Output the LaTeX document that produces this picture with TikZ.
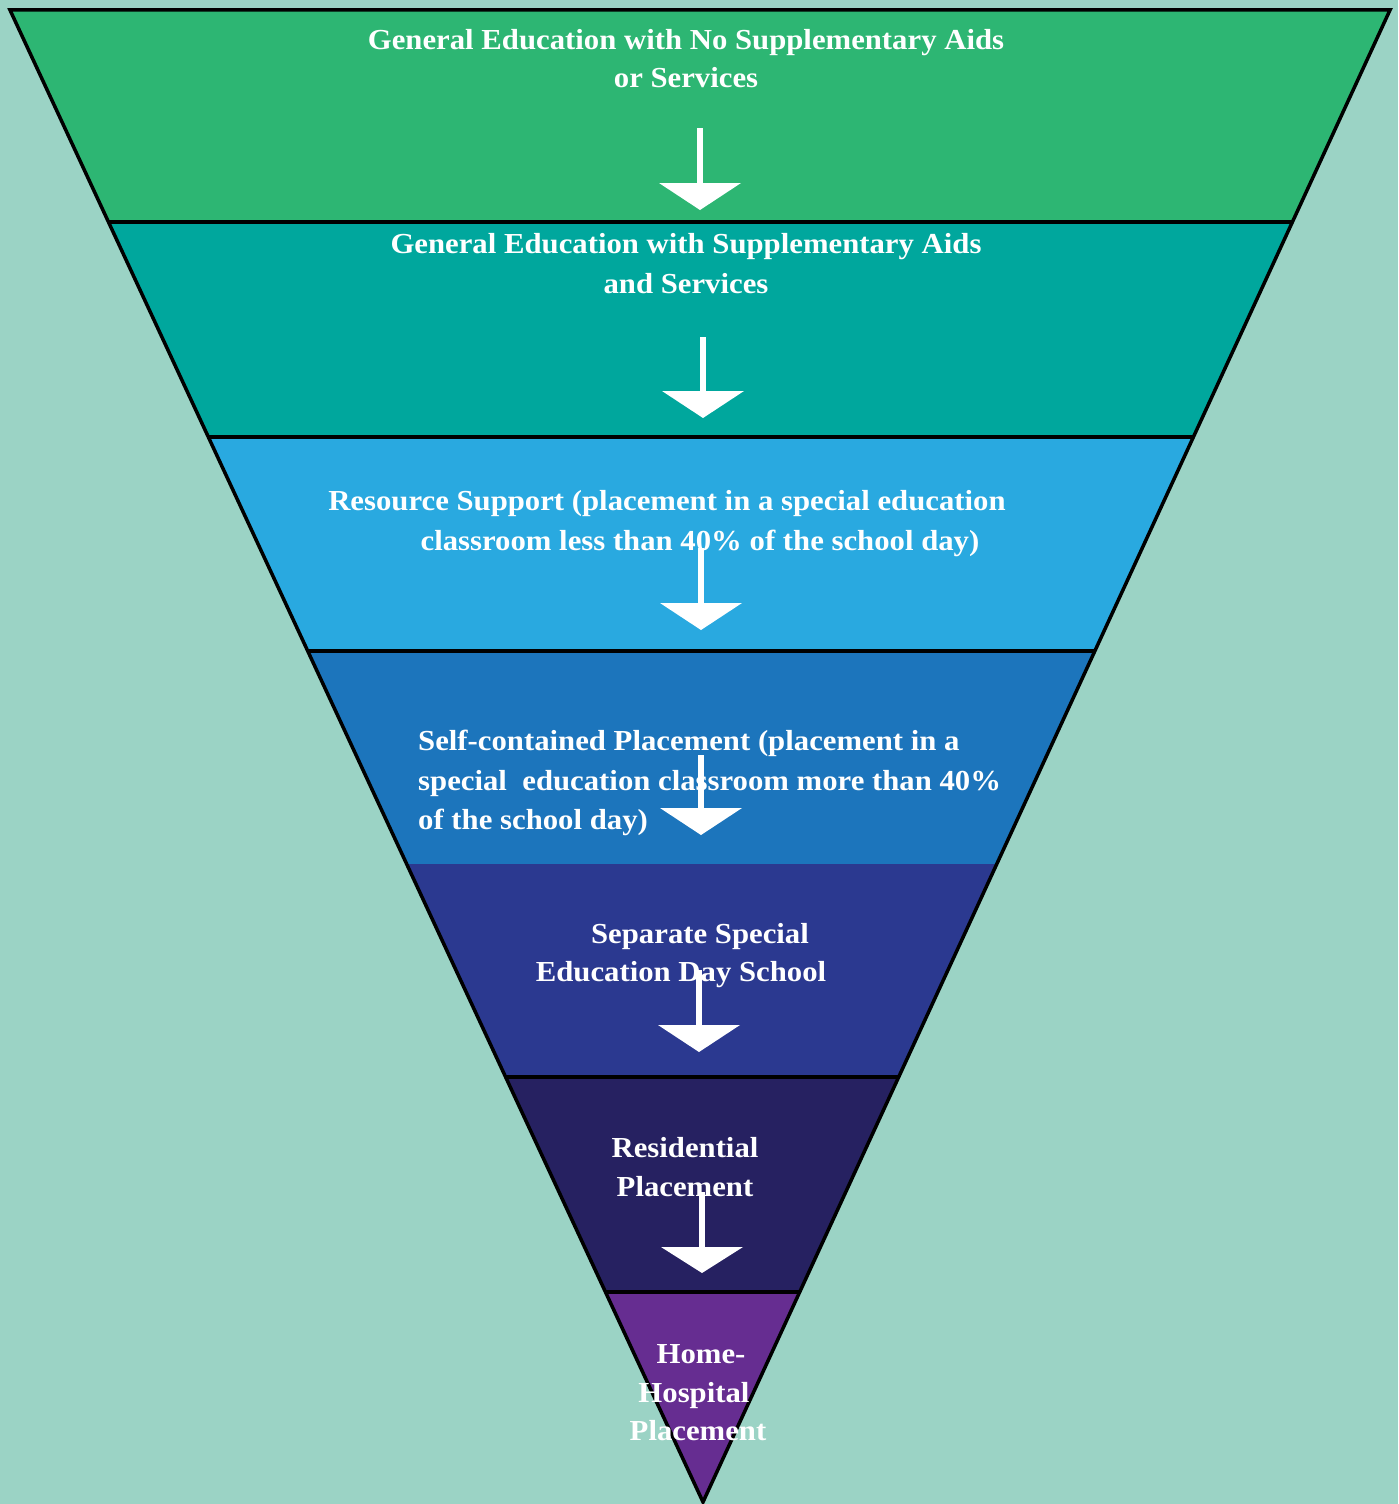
\documentclass[tikz,border=0pt]{standalone}
\usepackage{fontspec}
\setmainfont{Liberation Serif}[FakeStretch=1.06]
\definecolor{bgc}{HTML}{9BD3C5}
\definecolor{cA}{HTML}{2DB673}
\definecolor{cB}{HTML}{00A79D}
\definecolor{cC}{HTML}{29A9E0}
\definecolor{cD}{HTML}{1C75BC}
\definecolor{cE}{HTML}{2B3990}
\definecolor{cF}{HTML}{262161}
\definecolor{cG}{HTML}{662D91}
\tikzset{
  lbl/.style={text=white,inner sep=0pt,anchor=base,font=\fontsize{29}{39}\selectfont\bfseries},
  lblw/.style={lbl,anchor=base west},
  sepline/.style={draw=black,line width=3.5pt},
  outline/.style={draw=black,line width=3.5pt,line join=miter},
  shaftst/.style={draw=white,line width=6pt},
  headst/.style={fill=white}
}
\newcommand\bandarrow[5]{%
  \coordinate (#1s) at (#2,#3);
  \coordinate (#1b) at (#2,#4);
  \coordinate (#1t) at (#2,#5);
  \draw[shaftst] (#1s) -- ([yshift=-2pt]#1b);
  \fill[headst] ([xshift=-41pt]#1b) -- ([xshift=41pt]#1b) -- (#1t) -- cycle;
}
\begin{document}
\begin{tikzpicture}[x=1pt,y=-1pt]
\fill[bgc] (0,0) rectangle (1398,1504);
\useasboundingbox (0,0) rectangle (1398,1504);
\coordinate (TL) at (10,10);
\coordinate (TR) at (1390,10);
\coordinate (AP) at (703,1502);
\begin{scope}
  \clip (TL) -- (TR) -- (AP) -- cycle;
  \fill[cA] (0,0) rectangle (1398,222);
  \fill[cB] (0,222) rectangle (1398,437);
  \fill[cC] (0,437) rectangle (1398,651);
  \fill[cD] (0,651) rectangle (1398,864);
  \fill[cE] (0,864) rectangle (1398,1077);
  \fill[cF] (0,1077) rectangle (1398,1292);
  \fill[cG] (0,1292) rectangle (1398,1504);
  \draw[sepline] (0,222) -- (1398,222);
  \draw[sepline] (0,437) -- (1398,437);
  \draw[sepline] (0,651) -- (1398,651);
  \draw[sepline] (0,1077) -- (1398,1077);
  \draw[sepline] (0,1292) -- (1398,1292);
\end{scope}
\draw[outline] (TL) -- (TR) -- (AP) -- cycle;
% texts
\node[lbl] (t1a) at (686,49) {General Education with No Supplementary Aids};
\node[lbl] (t1b) at (686,88) {or Services};
\node[lbl] (t2a) at (686,253) {General Education with Supplementary Aids};
\node[lbl] (t2b) at (686,293) {and Services};
\node[lbl] (t3a) at (667,510) {Resource Support (placement in a special education};
\node[lbl] (t3b) at (700,550) {classroom less than 40\% of the school day)};
\node[lblw] (t4a) at (418,750) {Self-contained Placement (placement in a};
\node[lblw] (t4b) at (418,790) {special\ \ education classroom more than 40\%};
\node[lblw] (t4c) at (418,829) {of the school day)};
\node[lbl] (t5a) at (700,943) {Separate Special};
\node[lbl] (t5b) at (681,981) {Education Day School};
\node[lbl] (t6a) at (685,1157) {Residential};
\node[lbl] (t6b) at (685,1196) {Placement};
\node[lbl] (t7a) at (701,1363) {Home-};
\node[lbl] (t7b) at (694,1402) {Hospital};
\node[lbl] (t7c) at (698,1440) {Placement};
% arrows
\bandarrow{aA}{700}{128}{183}{210}
\bandarrow{aB}{703}{337}{391}{418}
\bandarrow{aC}{701}{548}{603}{630}
\bandarrow{aD}{701}{755}{808}{835}
\bandarrow{aE}{699}{970}{1025}{1052}
\bandarrow{aF}{702}{1192}{1247}{1273}
\end{tikzpicture}
\end{document}
